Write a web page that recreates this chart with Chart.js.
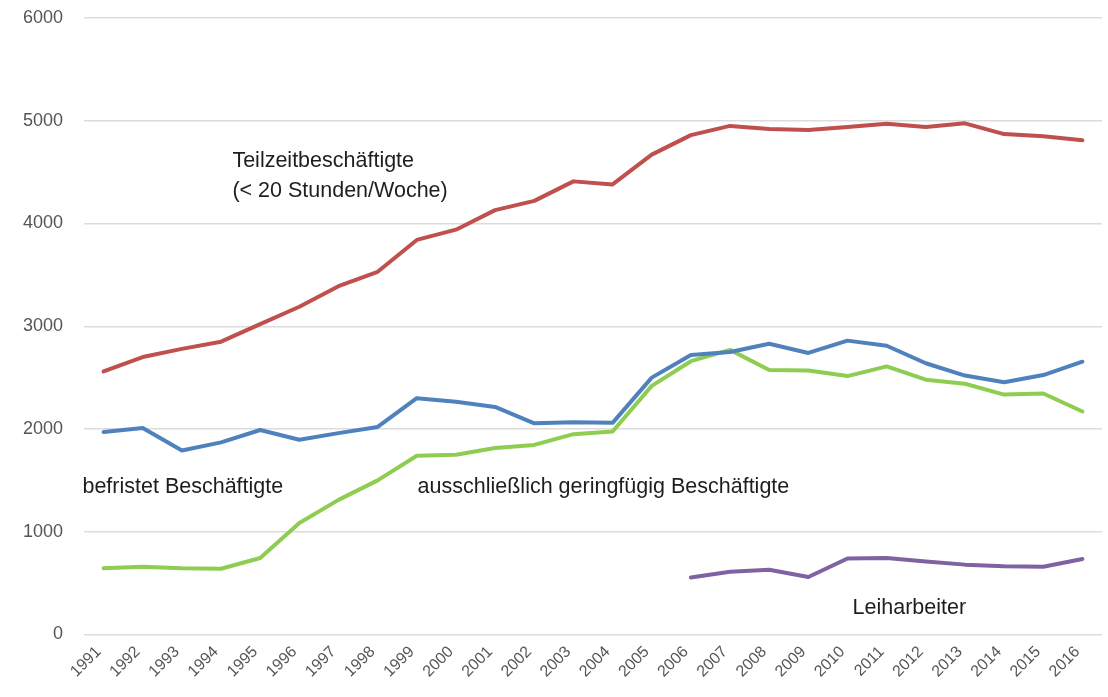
<!DOCTYPE html>
<html>
<head>
<meta charset="utf-8">
<script src="https://cdn.jsdelivr.net/npm/chart.js@4/dist/chart.umd.min.js"></script>
<style>
  html, body { margin: 0; padding: 0; background: #ffffff; }
  #wrap { width: 1108px; height: 697px; }
</style>
</head>
<body>
<div id="wrap"><canvas id="c" width="1108" height="697"></canvas></div>
<script>
const years = ["1991","1992","1993","1994","1995","1996","1997","1998","1999","2000","2001","2002","2003","2004","2005","2006","2007","2008","2009","2010","2011","2012","2013","2014","2015","2016"];
const teilzeit = [2560,2700,2780,2850,3020,3190,3390,3530,3840,3940,4130,4220,4410,4380,4670,4860,4950,4920,4910,4940,4970,4940,4975,4870,4850,4810];
const befristet = [1970,2010,1790,1870,1990,1895,1960,2020,2300,2265,2215,2055,2065,2060,2500,2720,2750,2830,2740,2860,2810,2640,2520,2455,2525,2655];
const geringfuegig = [645,660,645,640,745,1085,1310,1500,1740,1750,1815,1845,1950,1975,2420,2660,2770,2575,2570,2515,2610,2480,2440,2335,2345,2170];
const leiharbeiter = [null,null,null,null,null,null,null,null,null,null,null,null,null,null,null,555,610,630,560,740,745,710,680,665,660,735];
const yTicks = [0,1000,2000,3000,4000,5000,6000];

// annotation texts anchored at (category index, value)
const labelTexts = ["Teilzeitbeschäftigte", "(< 20 Stunden/Woche)", "befristet Beschäftigte", "ausschließlich geringfügig Beschäftigte", "Leiharbeiter"];
const labelIdx = [3.29, 3.29, -0.54, 8.02, 19.13];
const labelVal = [4610, 4318, 1439, 1439, 258];

const annotate = {
  id: 'annotate',
  afterDatasetsDraw(chart) {
    const ctx = chart.ctx;
    const xs = chart.scales.x, ys = chart.scales.y;
    ctx.save();
    ctx.font = '21.5px "Liberation Sans", Arial, sans-serif';
    ctx.fillStyle = '#1e1e1e';
    ctx.textAlign = 'left';
    ctx.textBaseline = 'middle';
    labelTexts.forEach((t, i) => {
      ctx.fillText(t, xs.getPixelForValue(labelIdx[i]), ys.getPixelForValue(labelVal[i]));
    });
    ctx.restore();
  }
};

const mk = (data, color) => ({
  data, borderColor: color, backgroundColor: color, borderWidth: 4,
  pointRadius: 0, pointHoverRadius: 0, tension: 0, fill: false,
  borderCapStyle: 'round', borderJoinStyle: 'round'
});

new Chart(document.getElementById('c'), {
  type: 'line',
  data: {
    labels: years,
    datasets: [
      mk(teilzeit, '#bf504d'),
      mk(befristet, '#4f81bd'),
      mk(geringfuegig, '#8fcc52'),
      mk(leiharbeiter, '#7f62a1')
    ]
  },
  options: {
    responsive: false,
    animation: false,
    devicePixelRatio: 1,
    layout: { padding: { top: 18, right: 6, bottom: 0, left: 0 } },
    plugins: { legend: { display: false }, tooltip: { enabled: false } },
    scales: {
      x: {
        offset: true,
        grid: { display: false },
        border: { display: false },
        ticks: {
          minRotation: 45, maxRotation: 45, autoSkip: false,
          color: '#555555', padding: 0, labelOffset: -5,
          font: { family: '"Liberation Sans", Arial, sans-serif', size: 16 }
        },
        afterFit(scale) { scale.height = 62.5; }
      },
      y: {
        min: 0, max: 6000,
        afterBuildTicks(scale) { scale.ticks = yTicks.map(v => ({ value: v })); },
        grid: { color: '#dcdcdc', lineWidth: 1.5, drawTicks: true, tickLength: 18, tickColor: 'rgba(0,0,0,0)' },
        border: { display: false },
        ticks: {
          color: '#555555', padding: 3,
          callback: v => String(v),
          font: { family: '"Liberation Sans", Arial, sans-serif', size: 18 }
        },
        afterFit(scale) { scale.width = 84; }
      }
    }
  },
  plugins: [annotate]
});
</script>
</body>
</html>
